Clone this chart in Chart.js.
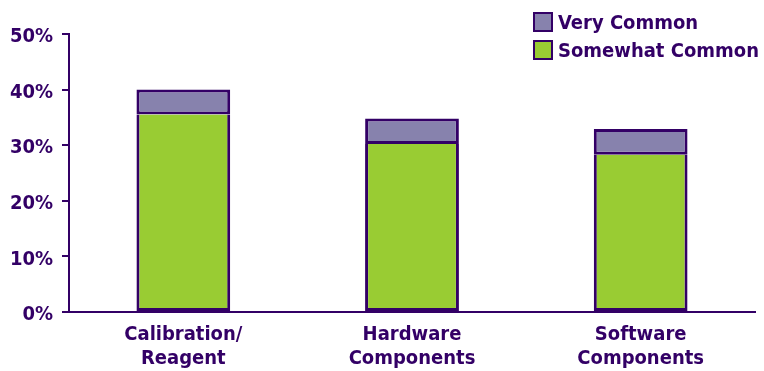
<!DOCTYPE html>
<html>
<head>
<meta charset="utf-8">
<script src="https://cdn.jsdelivr.net/npm/chart.js@4"></script>
<style>
  html, body { margin: 0; padding: 0; background: #fff; }
  #wrap { position: relative; width: 764px; height: 371px; }
  #legend { position: absolute; left: 533px; top: 8px; font-family: "DejaVu Sans Condensed", "DejaVu Sans", sans-serif; font-weight: bold; font-size: 20px; color: #330066; }
  .item { display: flex; align-items: center; height: 28px; white-space: nowrap; }
  .box { width: 16px; height: 16px; border: 2px solid #330066; margin-right: 5px; }
</style>
</head>
<body>
<div id="wrap">
  <canvas id="chart" width="764" height="371"></canvas>
  <div id="legend"></div>
</div>
<script>
const categories = [["Calibration/", "Reagent"], ["Hardware", "Components"], ["Software", "Components"]];
const somewhatCommon = [35.5, 30.2, 28.3];
const veryCommon = [4.5, 4.6, 4.6];
const yTicks = [0, 10, 20, 30, 40, 50];

const purple = "#330066";
const green = "#99cc33";
const grey = "#8782ad";
const fontFamily = '"DejaVu Sans Condensed", "DejaVu Sans", sans-serif';

// legend drawn as html, top right
const legendItems = [
    { label: "Very Common", color: grey },
    { label: "Somewhat Common", color: green }
];
const legendEl = document.getElementById("legend");
legendItems.forEach(it => {
    const row = document.createElement("div");
    row.className = "item";
    row.innerHTML = '<span class="box" style="background:' + it.color + '"></span>' + it.label;
    legendEl.appendChild(row);
});

var ctx = document.getElementById("chart").getContext("2d");
var chart = new Chart(ctx, {
    type: "bar",
    data: {
        labels: categories,
        datasets: [
            {
                label: "Somewhat Common",
                data: somewhatCommon,
                backgroundColor: green,
                borderColor: purple,
                borderWidth: 3,
                borderSkipped: "top",
                barPercentage: 0.41,
                categoryPercentage: 1
            },
            {
                label: "Very Common",
                data: veryCommon,
                backgroundColor: grey,
                borderColor: purple,
                borderWidth: 3,
                borderSkipped: false,
                barPercentage: 0.41,
                categoryPercentage: 1
            }
        ]
    },
    options: {
        responsive: false,
        animation: false,
        layout: { padding: { top: 34, right: 9, left: 0, bottom: 0 } },
        plugins: {
            legend: { display: false },
            tooltip: { enabled: false }
        },
        scales: {
            x: {
                stacked: true,
                grid: { display: false },
                border: { color: purple, width: 2 },
                ticks: {
                    color: purple,
                    padding: 3,
                    font: { family: fontFamily, weight: "bold", size: 20, lineHeight: 1.2 }
                },
                afterFit: (axis) => { axis.height = 371 - 312; }
            },
            y: {
                stacked: true,
                min: 0,
                max: 50,
                afterBuildTicks: (axis) => { axis.ticks = yTicks.map(v => ({ value: v })); },
                grid: { drawOnChartArea: false, tickLength: 7, color: purple, lineWidth: 2 },
                border: { color: purple, width: 2 },
                ticks: {
                    color: purple,
                    padding: 9,
                    labelOffset: 3,
                    font: { family: fontFamily, weight: "bold", size: 20 },
                    callback: (v) => v + "%"
                },
                afterFit: (axis) => { axis.width = 69; }
            }
        }
    }
});
</script>
</body>
</html>
